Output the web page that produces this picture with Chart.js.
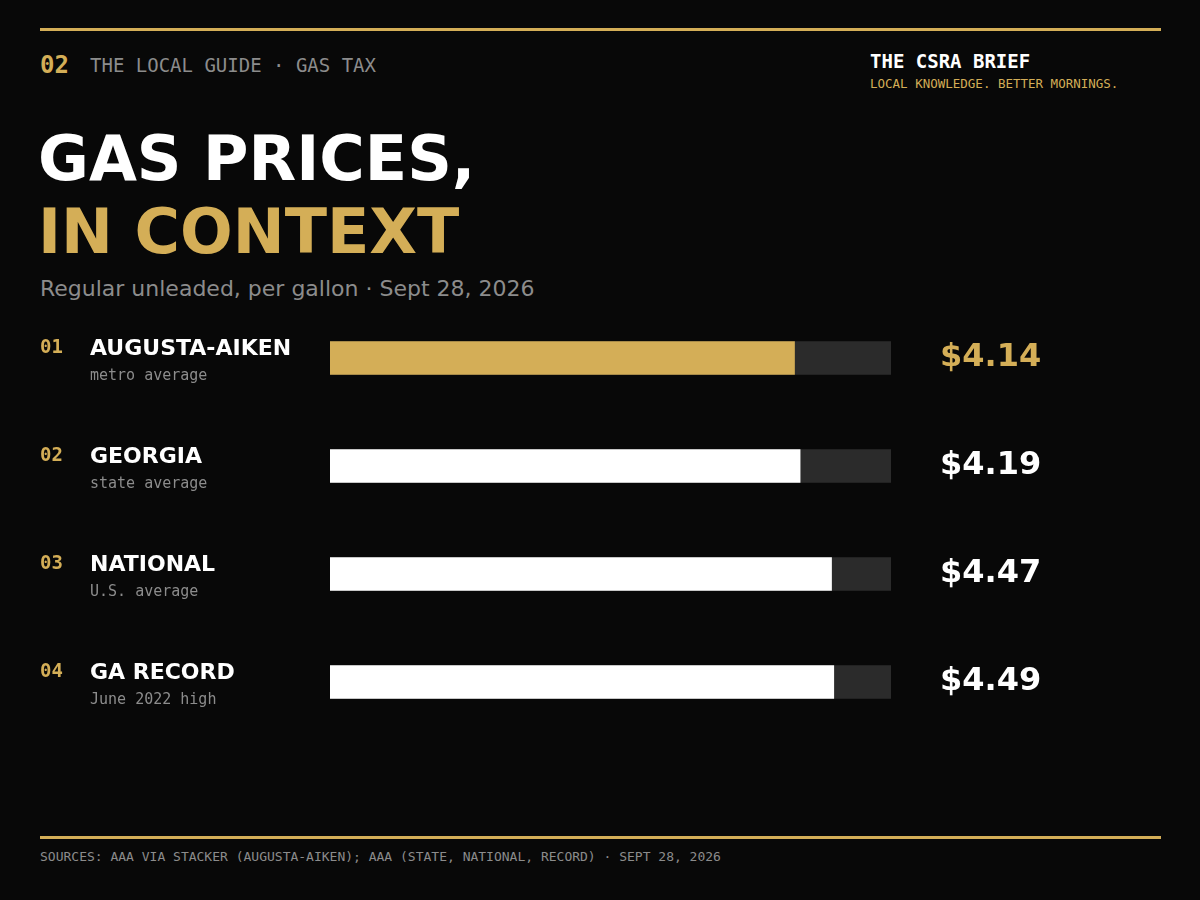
<!DOCTYPE html>
<html>
<head>
<meta charset="utf-8">
<script src="https://cdn.jsdelivr.net/npm/chart.js@4"></script>
<style>
  body { margin: 0; background: #080808; width: 1200px; height: 900px; overflow: hidden; position: relative; font-family: "DejaVu Sans", sans-serif; }
  .rule { position: absolute; left: 40px; width: 1121px; height: 3px; background: #d4ae57; }
  .mono { font-family: "DejaVu Sans Mono", monospace; }
  .abs { position: absolute; white-space: nowrap; }
  #wrap { position: absolute; left: 0; top: 304px; width: 1200px; height: 432px; }
</style>
</head>
<body>
<div class="rule" style="top:28px"></div>
<div class="abs mono" style="left:40px;top:51px;font-size:24px;font-weight:bold;color:#d4ae57">02</div>
<div class="abs mono" style="left:90px;top:54px;font-size:19px;color:#8c8c8c">THE LOCAL GUIDE · GAS TAX</div>
<div class="abs mono" style="left:870px;top:50px;font-size:19px;font-weight:bold;color:#fff">THE CSRA BRIEF</div>
<div class="abs mono" style="left:870px;top:76px;font-size:12.5px;color:#d4ae57">LOCAL KNOWLEDGE. BETTER MORNINGS.</div>
<div class="abs" style="left:38px;top:122px;font-size:62px;font-weight:bold;color:#fff">GAS PRICES,</div>
<div class="abs" style="left:38px;top:195px;font-size:62px;font-weight:bold;color:#d4ae57">IN CONTEXT</div>
<div class="abs" style="left:40px;top:276px;font-size:22px;color:#8c8c8c">Regular unleaded, per gallon · Sept 28, 2026</div>
<div id="wrap"><canvas id="c"></canvas></div>
<div class="rule" style="top:836px"></div>
<div class="abs mono" style="left:40px;top:849px;font-size:13px;color:#8c8c8c">SOURCES: AAA VIA STACKER (AUGUSTA-AIKEN); AAA (STATE, NATIONAL, RECORD) · SEPT 28, 2026</div>
<script>
const ranks = ['01', '02', '03', '04'];
const names = ['AUGUSTA-AIKEN', 'GEORGIA', 'NATIONAL', 'GA RECORD'];
const notes = ['metro average', 'state average', 'U.S. average', 'June 2022 high'];
const prices = [4.14, 4.19, 4.47, 4.49];
const scaleMax = 5;
const gold = '#d4ae57';

const rowLabels = {
    id: 'rowLabels',
    afterDatasetsDraw(chart) {
        const ctx = chart.ctx;
        const y = chart.scales.y;
        ctx.save();
        ctx.textBaseline = 'middle';
        names.forEach(function (name, i) {
            const cy = y.getPixelForValue(i);
            ctx.textAlign = 'left';
            ctx.fillStyle = gold;
            ctx.font = 'bold 19px "DejaVu Sans Mono"';
            ctx.fillText(ranks[i], 40, cy - 10);
            ctx.fillStyle = '#fff';
            ctx.font = 'bold 22px "DejaVu Sans"';
            ctx.fillText(name, 90, cy - 9);
            ctx.fillStyle = '#8c8c8c';
            ctx.font = '15px "DejaVu Sans Mono"';
            ctx.fillText(notes[i], 90, cy + 18);
            ctx.fillStyle = i === 0 ? gold : '#fff';
            ctx.font = 'bold 32px "DejaVu Sans"';
            ctx.fillText('$' + prices[i].toFixed(2), 940, cy);
        });
        ctx.restore();
    }
};

new Chart(document.getElementById('c'), {
    type: 'bar',
    data: {
        labels: names,
        datasets: [{
            data: prices,
            backgroundColor: prices.map((p, i) => i === 0 ? gold : '#ffffff'),
            barThickness: 33,
            grouped: false,
            order: 0
        }, {
            data: prices.map(() => scaleMax),
            backgroundColor: '#2b2b2b',
            barThickness: 33,
            grouped: false,
            order: 1
        }]
    },
    options: {
        indexAxis: 'y',
        responsive: true,
        maintainAspectRatio: false,
        animation: false,
        layout: {padding: {left: 330, right: 309, top: 0, bottom: 0}},
        plugins: {legend: {display: false}, tooltip: {enabled: false}},
        scales: {
            x: {min: 0, max: scaleMax, display: false},
            y: {display: false}
        }
    },
    plugins: [rowLabels]
});
</script>
</body>
</html>
